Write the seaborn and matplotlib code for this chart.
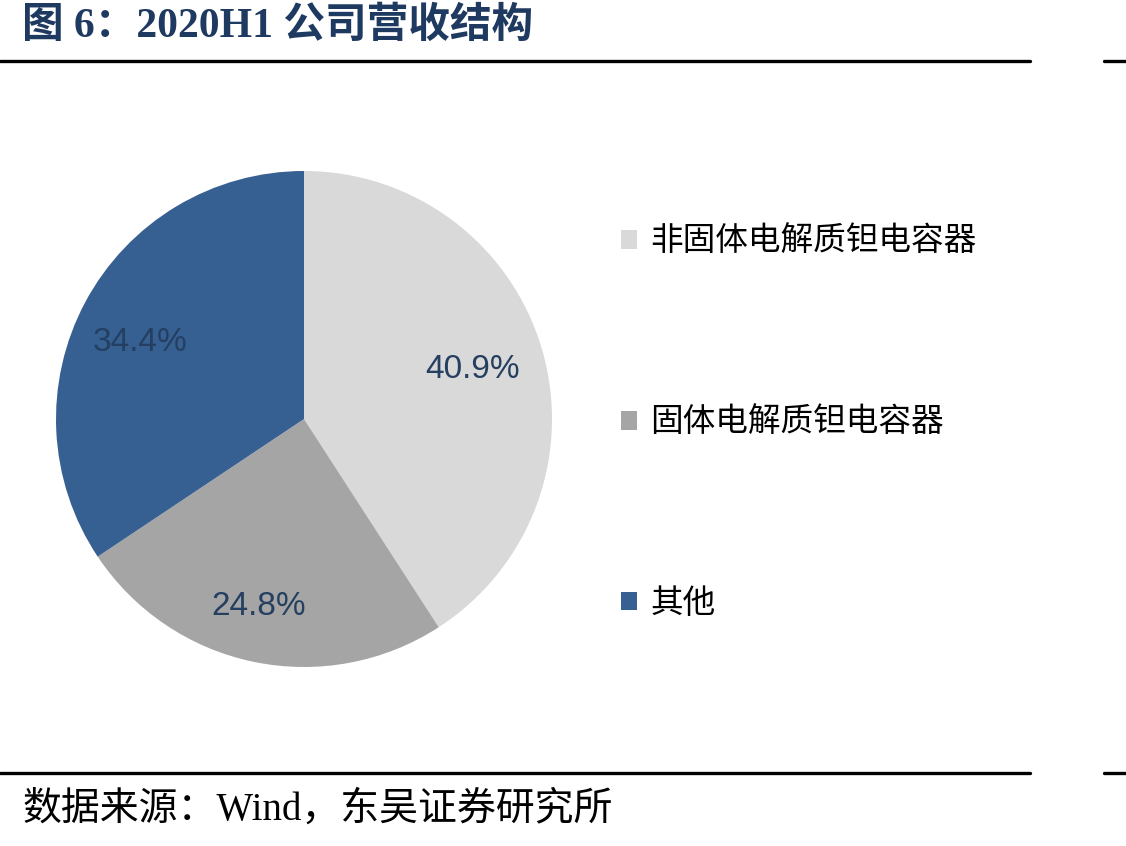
import matplotlib
matplotlib.use("Agg")
import numpy as np
import matplotlib.pyplot as plt
import seaborn as sns
from matplotlib.lines import Line2D

# data
labels = ["非固体电解质钽电容器", "固体电解质钽电容器", "其他"]
shares = [40.9, 24.8, 34.4]
colors = ["#D9D9D9", "#A5A5A5", "#376092"]

title = "图 6：2020H1 公司营收结构"
source = "数据来源：Wind，东吴证券研究所"

sns.set_theme(style="white")
plt.rcParams["font.family"] = ["Noto Sans CJK SC", "DejaVu Sans"]

fig = plt.figure(figsize=(11.26, 8.46), dpi=100)
W, H = 1126, 846

# pie axes: centre (304, 419), radius 248 px
cx, cy, r = 304, 419, 248
ax = fig.add_axes([(cx - r) / W, (H - cy - r) / H, 2 * r / W, 2 * r / H])
wedges, texts, autotexts = ax.pie(
    shares, colors=colors, startangle=90, counterclock=False,
    autopct="%.1f%%", pctdistance=0.74,
    textprops=dict(color="#243F60", fontsize=24, family=["Liberation Sans", "DejaVu Sans"]),
    wedgeprops=dict(linewidth=0),
)
# label placement is slightly off the slice middle in the original
dists = [0.71, 0.78, 0.73]
shifts = [0, -2, 3]
for w, t, d, s in zip(wedges, autotexts, dists, shifts):
    ang = np.deg2rad((w.theta1 + w.theta2) / 2 + s)
    t.set_position((d * np.cos(ang), d * np.sin(ang)))
ax.set_xlim(-1, 1)
ax.set_ylim(-1, 1)
ax.set_aspect("equal")

# legend on the right
leg = fig.legend(
    wedges, labels, loc="upper left",
    bbox_to_anchor=(621 / W, 1 - 226 / H), frameon=False,
    fontsize=23.5, labelspacing=4.56, handlelength=0.5, handleheight=0.5,
    handletextpad=0.4, borderpad=0, borderaxespad=0,
)
for t in leg.get_texts():
    t.set_color("black")

# title and source
fig.text(22 / W, 1 - 26 / H, title, fontsize=30, fontweight="bold", color="#1F3A60",
         va="center", ha="left", family=["Liberation Serif", "Noto Sans CJK SC"])
fig.text(22 / W, 1 - 810 / H, source, fontsize=28, color="black",
         va="center", ha="left", family=["Liberation Serif", "Noto Sans CJK SC"])

# rules above and below
for y in (61, 773):
    yy = 1 - y / H
    fig.add_artist(Line2D([0, 1030 / W], [yy, yy], color="black", lw=2.4))
    fig.add_artist(Line2D([1104 / W, 1], [yy, yy], color="black", lw=2.4))

fig.savefig("out.png", dpi=100)
